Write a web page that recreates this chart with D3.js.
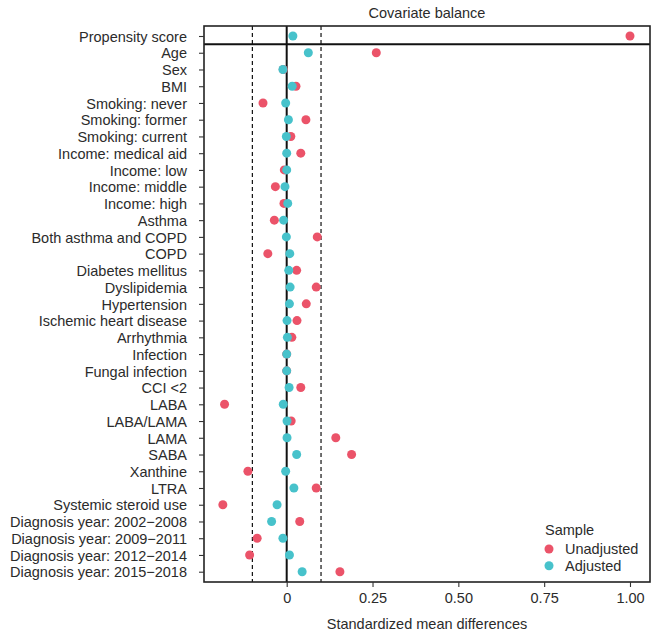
<!DOCTYPE html>
<html>
<head>
  <meta charset="utf-8">
  <title>Covariate balance</title>
  <script src="https://d3js.org/d3.v7.min.js"></script>
  <style>
    body { margin: 0; background: #fff; }
    text { font-family: "Liberation Sans", Arial, sans-serif; }
  </style>
</head>
<body>
  <script>
  // data
  var covariates = [
    "Propensity score", "Age", "Sex", "BMI",
    "Smoking: never", "Smoking: former", "Smoking: current",
    "Income: medical aid", "Income: low", "Income: middle", "Income: high",
    "Asthma", "Both asthma and COPD", "COPD", "Diabetes mellitus", "Dyslipidemia",
    "Hypertension", "Ischemic heart disease", "Arrhythmia", "Infection",
    "Fungal infection", "CCI <2", "LABA", "LABA/LAMA", "LAMA", "SABA",
    "Xanthine", "LTRA", "Systemic steroid use",
    "Diagnosis year: 2002\u22122008", "Diagnosis year: 2009\u22122011",
    "Diagnosis year: 2012\u22122014", "Diagnosis year: 2015\u22122018"
  ];
  var unadjusted = [
    1.00, 0.261, -0.010, 0.027,
    -0.069, 0.056, 0.012,
    0.041, -0.007, -0.033, -0.008,
    -0.036, 0.089, -0.055, 0.029, 0.086,
    0.057, 0.030, 0.015, 0.000,
    0.000, 0.041, -0.181, 0.013, 0.143, 0.189,
    -0.113, 0.086, -0.186,
    0.038, -0.086, -0.108, 0.155
  ];
  var adjusted = [
    0.018, 0.063, -0.011, 0.016,
    -0.003, 0.005, -0.001,
    0.000, 0.000, -0.005, 0.003,
    -0.009, -0.001, 0.009, 0.006, 0.010,
    0.008, 0.001, 0.002, 0.000,
    0.000, 0.007, -0.010, 0.001, 0.001, 0.029,
    -0.003, 0.021, -0.028,
    -0.044, -0.011, 0.008, 0.045
  ];
  var samples = ["Unadjusted", "Adjusted"];
  var xTicks = [0, 0.25, 0.5, 0.75, 1];
  var threshold = 0.1;

  var width = 656, height = 635;
  var pLeft = 204, pRight = 650, pTop = 26, pBottom = 582;
  var colors = { "Unadjusted": "#EB5369", "Adjusted": "#47C2CB" };
  var fontSize = "14.5px", textColor = "#2b2b2b";

  var svg = d3.select("body").append("svg").attr("width", width).attr("height", height);

  var x = d3.scaleLinear().domain([-0.2409, 1.0583]).range([pLeft, pRight]);
  var y = d3.scalePoint().domain(covariates).range([36, 571.7]);

  // threshold and zero lines
  [-threshold, threshold].forEach(function(t) {
    svg.append("line")
      .attr("x1", x(t)).attr("x2", x(t)).attr("y1", pTop).attr("y2", pBottom)
      .attr("stroke", "#111").attr("stroke-width", 1.2).attr("stroke-dasharray", "4,3");
  });
  svg.append("line")
    .attr("x1", x(0)).attr("x2", x(0)).attr("y1", pTop).attr("y2", pBottom)
    .attr("stroke", "#111").attr("stroke-width", 2);

  // separator under propensity score
  var sepY = (y(covariates[0]) + y(covariates[1])) / 2;
  svg.append("line")
    .attr("x1", pLeft).attr("x2", pRight).attr("y1", sepY).attr("y2", sepY)
    .attr("stroke", "#111").attr("stroke-width", 2);

  // points
  var rows = covariates.map(function(c, i) {
    return { name: c, Unadjusted: unadjusted[i], Adjusted: adjusted[i] };
  });
  samples.forEach(function(s) {
    svg.append("g").selectAll("circle")
      .data(rows)
      .enter()
      .append("circle")
      .attr("cx", function(d) { return x(d[s]); })
      .attr("cy", function(d) { return y(d.name); })
      .attr("r", 4.5)
      .attr("fill", colors[s]);
  });

  // panel border
  svg.append("rect")
    .attr("x", pLeft).attr("y", pTop).attr("width", pRight - pLeft).attr("height", pBottom - pTop)
    .attr("fill", "none").attr("stroke", "#222").attr("stroke-width", 1.6);

  // axes
  var yAxis = svg.append("g")
    .attr("transform", "translate(" + pLeft + ",0)")
    .call(d3.axisLeft(y).tickSize(5).tickPadding(12));
  var xAxis = svg.append("g")
    .attr("transform", "translate(0," + pBottom + ")")
    .call(d3.axisBottom(x).tickValues(xTicks).tickSize(5).tickPadding(6)
      .tickFormat(function(d) { return d === 0 ? "0" : d3.format(".2f")(d); }));
  [yAxis, xAxis].forEach(function(a) {
    a.select(".domain").remove();
    a.selectAll(".tick line").attr("stroke", "#333").attr("stroke-width", 1.1);
    a.selectAll(".tick text").attr("fill", textColor).attr("font-size", fontSize)
      .style("font-family", "'Liberation Sans', Arial, sans-serif");
  });
  yAxis.selectAll(".tick text").attr("dy", "0.36em");

  // titles
  svg.append("text")
    .attr("x", (pLeft + pRight) / 2).attr("y", 18)
    .attr("text-anchor", "middle").attr("font-size", fontSize).attr("fill", textColor)
    .text("Covariate balance");
  svg.append("text")
    .attr("x", (pLeft + pRight) / 2).attr("y", 629)
    .attr("text-anchor", "middle").attr("font-size", fontSize).attr("fill", textColor)
    .text("Standardized mean differences");

  // legend
  var legend = svg.append("g").attr("transform", "translate(545,0)");
  legend.append("text")
    .attr("x", 0).attr("y", 535)
    .attr("font-size", fontSize).attr("fill", textColor)
    .text("Sample");
  samples.forEach(function(s, i) {
    var ly = 549 + i * 16.7;
    legend.append("circle").attr("cx", 4).attr("cy", ly).attr("r", 4.5).attr("fill", colors[s]);
    legend.append("text")
      .attr("x", 20).attr("y", ly).attr("dy", "0.36em")
      .attr("font-size", fontSize).attr("fill", textColor)
      .text(s);
  });
  </script>
</body>
</html>
